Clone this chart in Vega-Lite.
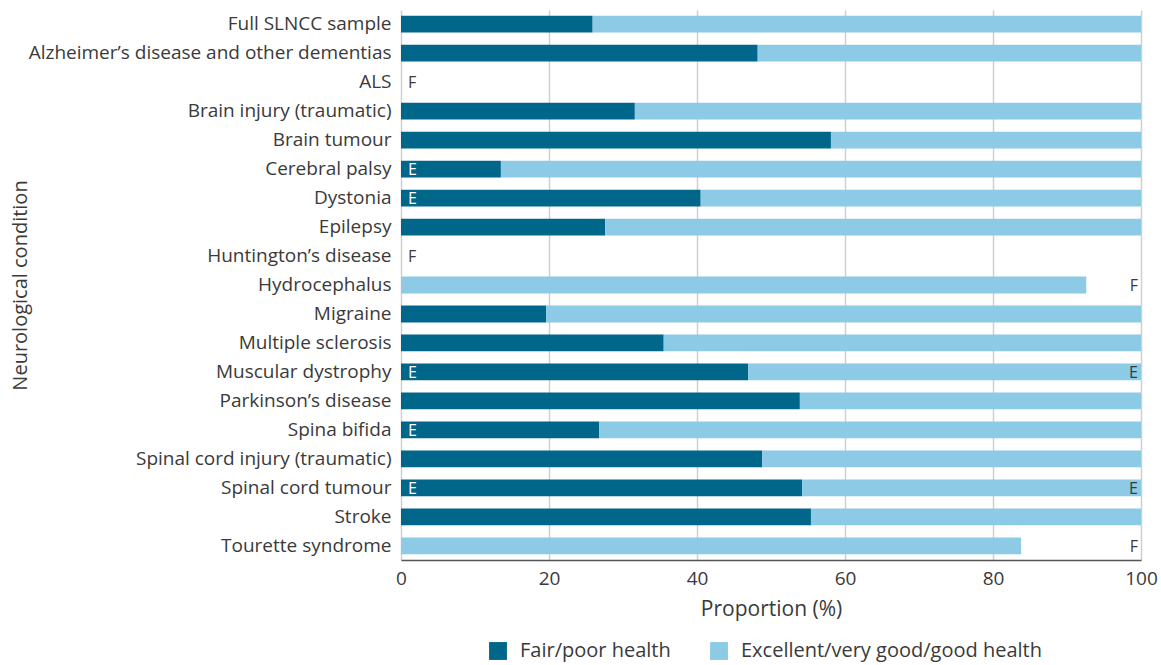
{
  "$schema": "https://vega.github.io/schema/vega-lite/v6.json",
  "width": 740,
  "height": 550,
  "padding": {"left": 9, "top": 10, "right": 20, "bottom": 5},
  "background": "white",
  "config": {
    "font": "Open Sans",
    "view": {"stroke": null},
    "axis": {"labelColor": "#3a3a3a", "titleColor": "#3a3a3a", "titleFontWeight": "normal"}
  },
  "datasets": {
    "bars": [
      {"condition": "Full SLNCC sample", "category": "Fair/poor health", "value": 25.9},
      {"condition": "Full SLNCC sample", "category": "Excellent/very good/good health", "value": 74.1},
      {"condition": "Alzheimer’s disease and other dementias", "category": "Fair/poor health", "value": 48.2},
      {"condition": "Alzheimer’s disease and other dementias", "category": "Excellent/very good/good health", "value": 51.8},
      {"condition": "Brain injury (traumatic)", "category": "Fair/poor health", "value": 31.6},
      {"condition": "Brain injury (traumatic)", "category": "Excellent/very good/good health", "value": 68.4},
      {"condition": "Brain tumour", "category": "Fair/poor health", "value": 58.1},
      {"condition": "Brain tumour", "category": "Excellent/very good/good health", "value": 41.9},
      {"condition": "Cerebral palsy", "category": "Fair/poor health", "value": 13.5},
      {"condition": "Cerebral palsy", "category": "Excellent/very good/good health", "value": 86.5},
      {"condition": "Dystonia", "category": "Fair/poor health", "value": 40.5},
      {"condition": "Dystonia", "category": "Excellent/very good/good health", "value": 59.5},
      {"condition": "Epilepsy", "category": "Fair/poor health", "value": 27.6},
      {"condition": "Epilepsy", "category": "Excellent/very good/good health", "value": 72.4},
      {"condition": "Hydrocephalus", "category": "Excellent/very good/good health", "value": 92.6},
      {"condition": "Migraine", "category": "Fair/poor health", "value": 19.6},
      {"condition": "Migraine", "category": "Excellent/very good/good health", "value": 80.4},
      {"condition": "Multiple sclerosis", "category": "Fair/poor health", "value": 35.5},
      {"condition": "Multiple sclerosis", "category": "Excellent/very good/good health", "value": 64.5},
      {"condition": "Muscular dystrophy", "category": "Fair/poor health", "value": 46.9},
      {"condition": "Muscular dystrophy", "category": "Excellent/very good/good health", "value": 53.1},
      {"condition": "Parkinson’s disease", "category": "Fair/poor health", "value": 53.9},
      {"condition": "Parkinson’s disease", "category": "Excellent/very good/good health", "value": 46.1},
      {"condition": "Spina bifida", "category": "Fair/poor health", "value": 26.8},
      {"condition": "Spina bifida", "category": "Excellent/very good/good health", "value": 73.2},
      {"condition": "Spinal cord injury (traumatic)", "category": "Fair/poor health", "value": 48.8},
      {"condition": "Spinal cord injury (traumatic)", "category": "Excellent/very good/good health", "value": 51.2},
      {"condition": "Spinal cord tumour", "category": "Fair/poor health", "value": 54.2},
      {"condition": "Spinal cord tumour", "category": "Excellent/very good/good health", "value": 45.8},
      {"condition": "Stroke", "category": "Fair/poor health", "value": 55.4},
      {"condition": "Stroke", "category": "Excellent/very good/good health", "value": 44.6},
      {"condition": "Tourette syndrome", "category": "Excellent/very good/good health", "value": 83.8}
    ],
    "flags": [
      {"condition": "ALS", "side": "left", "flag": "F"},
      {"condition": "Cerebral palsy", "side": "left", "flag": "E"},
      {"condition": "Dystonia", "side": "left", "flag": "E"},
      {"condition": "Huntington’s disease", "side": "left", "flag": "F"},
      {"condition": "Hydrocephalus", "side": "right", "flag": "F"},
      {"condition": "Muscular dystrophy", "side": "left", "flag": "E"},
      {"condition": "Muscular dystrophy", "side": "right", "flag": "E"},
      {"condition": "Spina bifida", "side": "left", "flag": "E"},
      {"condition": "Spinal cord tumour", "side": "left", "flag": "E"},
      {"condition": "Spinal cord tumour", "side": "right", "flag": "E"},
      {"condition": "Tourette syndrome", "side": "right", "flag": "F"}
    ]
  },
  "encoding": {
    "y": {
      "field": "condition",
      "type": "nominal",
      "sort": ["Full SLNCC sample", "Alzheimer’s disease and other dementias", "ALS", "Brain injury (traumatic)", "Brain tumour", "Cerebral palsy", "Dystonia", "Epilepsy", "Huntington’s disease", "Hydrocephalus", "Migraine", "Multiple sclerosis", "Muscular dystrophy", "Parkinson’s disease", "Spina bifida", "Spinal cord injury (traumatic)", "Spinal cord tumour", "Stroke", "Tourette syndrome"],
      "scale": {"domain": ["Full SLNCC sample", "Alzheimer’s disease and other dementias", "ALS", "Brain injury (traumatic)", "Brain tumour", "Cerebral palsy", "Dystonia", "Epilepsy", "Huntington’s disease", "Hydrocephalus", "Migraine", "Multiple sclerosis", "Muscular dystrophy", "Parkinson’s disease", "Spina bifida", "Spinal cord injury (traumatic)", "Spinal cord tumour", "Stroke", "Tourette syndrome"], "paddingInner": 0.42, "paddingOuter": 0.2},
      "axis": {
        "title": "Neurological condition",
        "titleFontSize": 20,
        "titleX": -381,
        "titleY": 275,
        "titleAngle": -90,
        "titleBaseline": "middle",
        "titleAlign": "center",
        "labelFontSize": 19,
        "labelPadding": 10,
        "labelLimit": 0,
        "ticks": false,
        "domain": false
      }
    }
  },
  "layer": [
    {
      "data": {"name": "bars"},
      "mark": {"type": "bar"},
      "encoding": {
        "x": {
          "field": "value",
          "type": "quantitative",
          "stack": "zero",
          "scale": {"domain": [0, 100], "nice": false},
          "axis": {
            "title": "Proportion (%)",
            "titleFontSize": 21,
            "titlePadding": 10,
            "labelFontSize": 19,
            "labelPadding": 9,
            "labelFlush": false,
            "values": [0, 20, 40, 60, 80, 100],
            "ticks": false,
            "grid": true,
            "gridColor": "#d0d0d0",
            "gridWidth": 1.5,
            "domainColor": "#555555",
            "domainWidth": 1.5
          }
        },
        "color": {
          "field": "category",
          "type": "nominal",
          "scale": {"domain": ["Fair/poor health", "Excellent/very good/good health"], "range": ["#00668a", "#8ccae6"]},
          "legend": {
            "title": null,
            "orient": "none",
            "legendX": 87,
            "legendY": 631,
            "direction": "horizontal",
            "symbolType": "square",
            "symbolSize": 320,
            "symbolStrokeWidth": 0,
            "labelFontSize": 20,
            "labelLimit": 0,
            "labelColor": "#3a3a3a",
            "labelOffset": 12,
            "columnPadding": 38
          }
        },
        "order": {"field": "category", "sort": "descending"}
      }
    },
    {
      "data": {"name": "flags"},
      "transform": [{"filter": "datum.side == 'left'"}],
      "mark": {"type": "text", "align": "left", "dx": 7, "fontSize": 16, "baseline": "middle", "dy": 1},
      "encoding": {
        "x": {"datum": 0},
        "text": {"field": "flag"},
        "color": {"condition": {"test": "datum.flag == 'E'", "value": "#ffffff"}, "value": "#3a3a3a"}
      }
    },
    {
      "data": {"name": "flags"},
      "transform": [{"filter": "datum.side == 'right'"}],
      "mark": {"type": "text", "align": "right", "dx": -3, "fontSize": 16, "baseline": "middle", "dy": 1, "color": "#3a3a3a"},
      "encoding": {
        "x": {"datum": 100},
        "text": {"field": "flag"}
      }
    }
  ]
}
